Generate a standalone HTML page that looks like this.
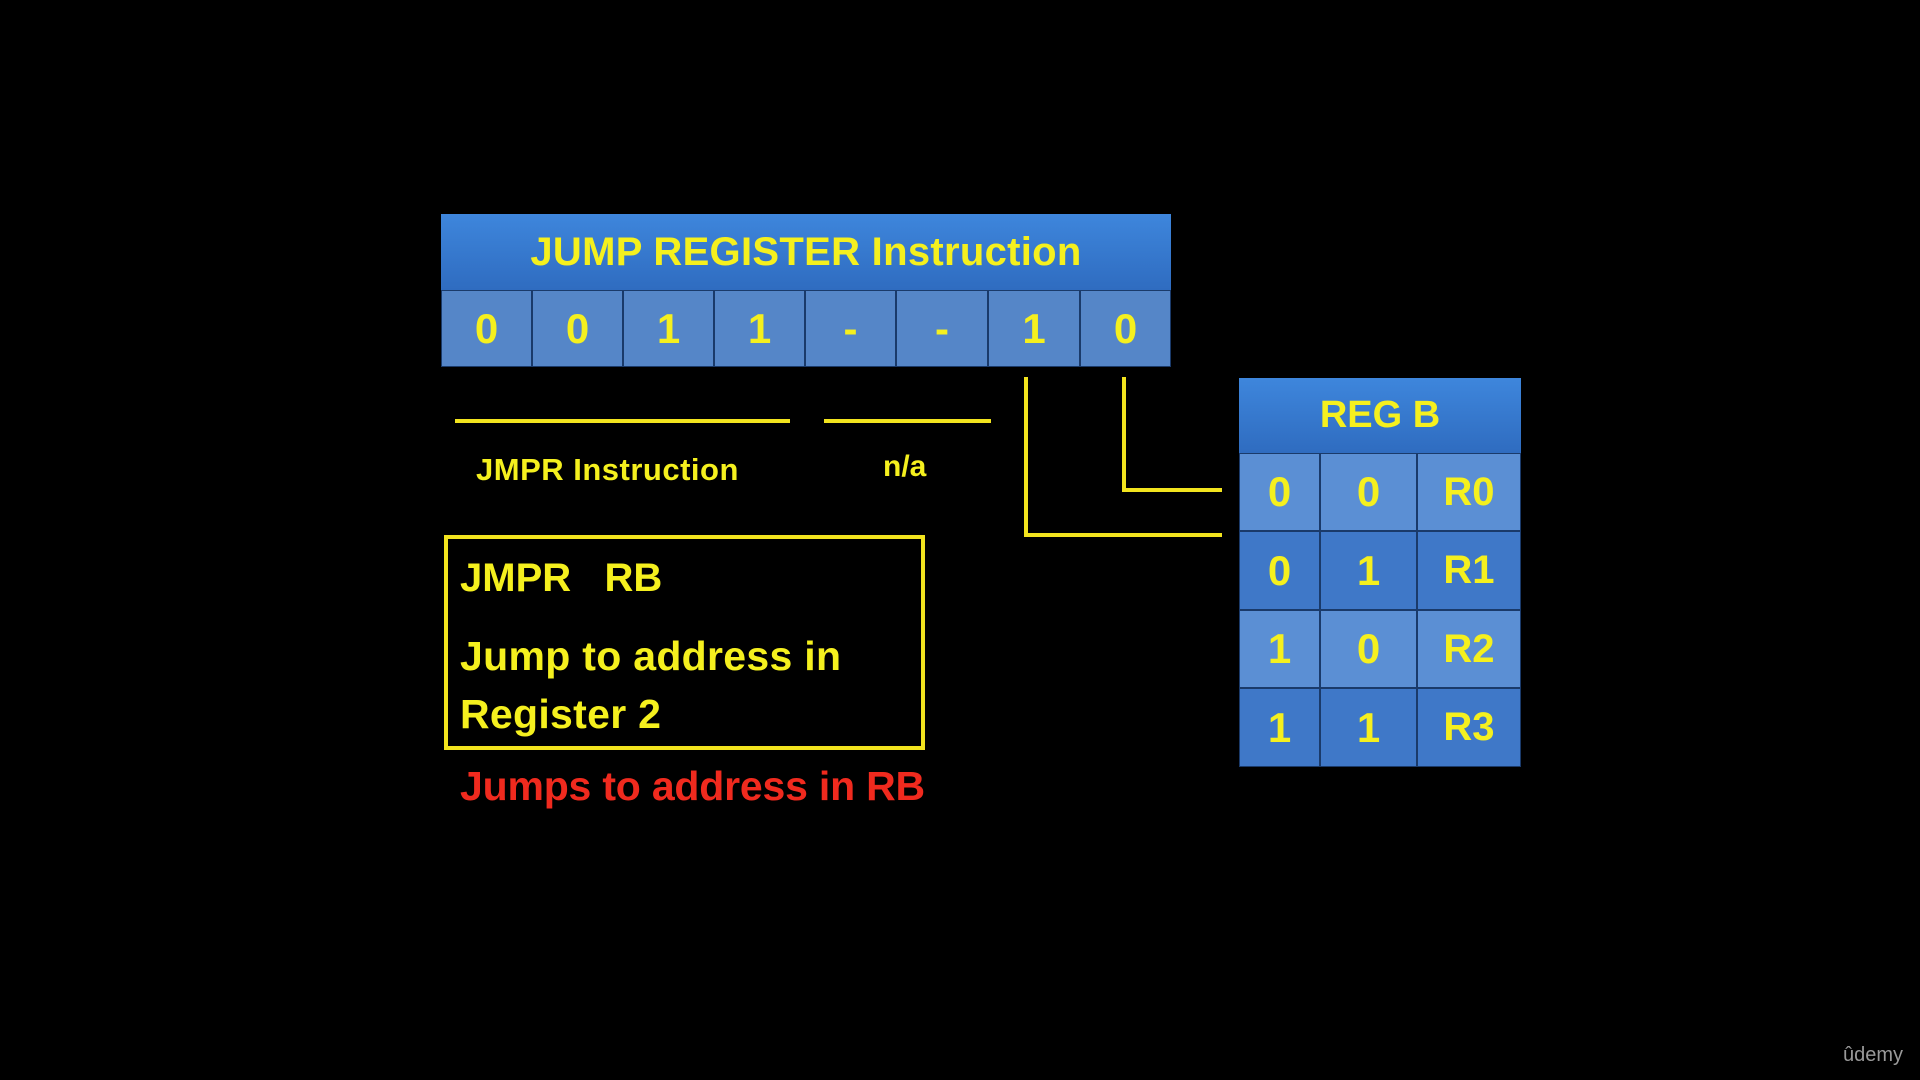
<!DOCTYPE html>
<html><head><style>
body{margin:0;width:1920px;height:1080px;background:#000;position:relative;overflow:hidden;font-family:"Liberation Sans",sans-serif;font-weight:bold}
.a{position:absolute}
.y{color:#f5f01e}
.c{position:absolute;display:flex;align-items:center;justify-content:center;box-sizing:border-box;border:1px solid #1a3a6a;color:#f5f01e}
.ln{position:absolute;background:#f2e41e}
</style></head><body>
<div class="a" style="left:441px;top:214px;width:730px;height:76px;background:linear-gradient(#3e86dc,#2f6cc0);display:flex;align-items:center;justify-content:center;font-size:40px;color:#f5f01e;letter-spacing:0.3px">JUMP REGISTER Instruction</div>
<div class="c" style="left:441px;top:290px;width:91px;height:77px;background:#5586c8;font-size:42px">0</div>
<div class="c" style="left:532px;top:290px;width:91px;height:77px;background:#5586c8;font-size:42px">0</div>
<div class="c" style="left:623px;top:290px;width:91px;height:77px;background:#5586c8;font-size:42px">1</div>
<div class="c" style="left:714px;top:290px;width:91px;height:77px;background:#5586c8;font-size:42px">1</div>
<div class="c" style="left:805px;top:290px;width:91px;height:77px;background:#5586c8;font-size:42px">-</div>
<div class="c" style="left:896px;top:290px;width:92px;height:77px;background:#5586c8;font-size:42px">-</div>
<div class="c" style="left:988px;top:290px;width:92px;height:77px;background:#5586c8;font-size:42px">1</div>
<div class="c" style="left:1080px;top:290px;width:91px;height:77px;background:#5586c8;font-size:42px">0</div>

<div class="ln" style="left:455px;top:419px;width:335px;height:4px"></div>
<div class="ln" style="left:824px;top:419px;width:167px;height:4px"></div>
<div class="a y" style="left:476px;top:452px;font-size:31px;letter-spacing:0.5px">JMPR Instruction</div>
<div class="a y" style="left:883px;top:450px;font-size:30px">n/a</div>

<div class="ln" style="left:1024px;top:377px;width:4px;height:160px"></div>
<div class="ln" style="left:1024px;top:533px;width:198px;height:4px"></div>
<div class="ln" style="left:1122px;top:377px;width:4px;height:115px"></div>
<div class="ln" style="left:1122px;top:488px;width:100px;height:4px"></div>

<div class="a" style="left:1239px;top:378px;width:282px;height:75px;background:linear-gradient(#3e86dc,#2f6cc0);display:flex;align-items:center;justify-content:center;font-size:38px;color:#f5f01e">REG B</div>
<div class="c" style="left:1239px;top:453px;width:81px;height:78px;background:#5b8fd4;font-size:42px">0</div>
<div class="c" style="left:1320px;top:453px;width:97px;height:78px;background:#5b8fd4;font-size:42px">0</div>
<div class="c" style="left:1417px;top:453px;width:104px;height:78px;background:#5b8fd4;font-size:40px">R0</div>
<div class="c" style="left:1239px;top:531px;width:81px;height:79px;background:#3f78c8;font-size:42px">0</div>
<div class="c" style="left:1320px;top:531px;width:97px;height:79px;background:#3f78c8;font-size:42px">1</div>
<div class="c" style="left:1417px;top:531px;width:104px;height:79px;background:#3f78c8;font-size:40px">R1</div>
<div class="c" style="left:1239px;top:610px;width:81px;height:78px;background:#5b8fd4;font-size:42px">1</div>
<div class="c" style="left:1320px;top:610px;width:97px;height:78px;background:#5b8fd4;font-size:42px">0</div>
<div class="c" style="left:1417px;top:610px;width:104px;height:78px;background:#5b8fd4;font-size:40px">R2</div>
<div class="c" style="left:1239px;top:688px;width:81px;height:79px;background:#3f78c8;font-size:42px">1</div>
<div class="c" style="left:1320px;top:688px;width:97px;height:79px;background:#3f78c8;font-size:42px">1</div>
<div class="c" style="left:1417px;top:688px;width:104px;height:79px;background:#3f78c8;font-size:40px">R3</div>

<div class="a" style="left:444px;top:535px;width:481px;height:215px;border:4px solid #f2e41e;box-sizing:border-box"></div>
<div class="a y" style="left:460px;top:556px;font-size:40px;white-space:pre">JMPR   RB</div>
<div class="a y" style="left:460px;top:627px;font-size:41px;line-height:58px;letter-spacing:0.3px">Jump to address in<br>Register 2</div>
<div class="a" style="left:460px;top:763px;font-size:41px;color:#f02a1e;letter-spacing:-0.2px">Jumps to address in RB</div>

<div class="a" style="left:1843px;top:1044px;font-size:20px;color:#999;font-weight:normal">ûdemy</div>
</body></html>
